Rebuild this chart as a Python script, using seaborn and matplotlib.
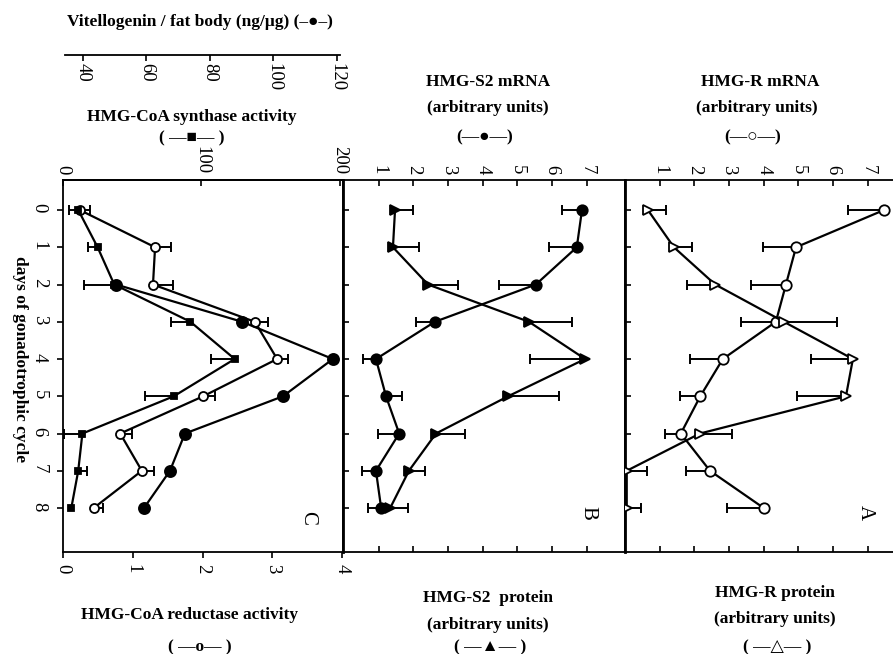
import numpy as np
import pandas as pd
import matplotlib
matplotlib.use("Agg")
import matplotlib.pyplot as plt
import seaborn as sns

# days of gonadotrophic cycle
days = [0, 1, 2, 3, 4, 5, 6, 7, 8]

# panel C
reductase = [0.24, 1.32, 1.29, 2.75, 3.07, 2.01, 0.82, 1.13, 0.44]
reductase_err_hi = [0.14, 0.23, 0.29, 0.19, 0.16, 0.17, 0.17, 0.17, 0.14]
synthase = [11, 25, 37, 92, 124, 80, 14, 11, 6]
synthase_err_lo = [7, 7, 22, 14, 17, 21, 13, 0, 0]
synthase_err_hi = [0, 0, 0, 0, 0, 0, 0, 6, 0]
vitellogenin = [np.nan, np.nan, 50.4, 90.1, 118.7, 103.0, 72.1, 67.4, 59.2]

# panel B
s2_mrna = [6.86, 6.71, 5.53, 2.62, 0.92, 1.21, 1.59, 0.92, 1.07]
s2_mrna_err_lo = [0.58, 0.81, 1.07, 0.55, 0.37, 0, 0.60, 0.40, 0.37]
s2_mrna_err_hi = [0, 0, 0, 0, 0, 0.46, 0, 0, 0]
s2_prot = [1.47, 1.41, 2.42, 5.33, 6.95, 4.73, 2.65, 1.87, 1.33]
s2_prot_err_lo = [0, 0, 0, 0, 1.60, 0, 0, 0, 0]
s2_prot_err_hi = [0.52, 0.75, 0.86, 1.24, 0, 1.47, 0.84, 0.46, 0.52]

# panel A
r_mrna = [7.47, 4.93, 4.64, 4.35, 2.82, 2.17, 1.61, 2.45, 4.00]
r_mrna_err_lo = [1.04, 0.95, 1.00, 1.00, 0.94, 0.58, 0.46, 0.69, 1.06]
r_prot = [0.66, 1.41, 2.60, 4.58, 6.57, 6.37, 2.16, 0.05, 0.05]
r_prot_err_lo = [0, 0, 0.80, 0, 1.20, 1.42, 0, 0, 0]
r_prot_err_hi = [0.52, 0.52, 0, 1.54, 0, 0, 0.92, 0.58, 0.40]

sns.set_style("ticks")
plt.rcParams["font.family"] = ["Liberation Serif", "DejaVu Sans"]
plt.rcParams["axes.edgecolor"] = "black"
plt.rcParams["axes.linewidth"] = 1.3
plt.rcParams["xtick.color"] = "black"
plt.rcParams["ytick.color"] = "black"
plt.rcParams["text.color"] = "black"

W, H = 893, 654
fig = plt.figure(figsize=(W / 100, H / 100), dpi=100)


def box(x0, y0, x1, y1):
    return [x0 / W, 1 - y1 / H, (x1 - x0) / W, (y1 - y0) / H]


def line(ax, vals, marker, ms, face="black"):
    df = pd.DataFrame({"day": days, "v": vals})
    sns.lineplot(data=df, x="v", y="day", orient="y", estimator=None, sort=False,
                 ax=ax, color="black", linewidth=1.6, marker=marker, markersize=ms,
                 markerfacecolor=face, markeredgecolor="black", markeredgewidth=1.3,
                 zorder=3)
    ax.set_xlabel("")
    ax.set_ylabel("")


def errs(ax, vals, lo, hi):
    v = np.array(vals, float)
    d = np.array(days, float)
    lo = np.array(lo, float)
    hi = np.array(hi, float)
    for side in ("lo", "hi"):
        e = lo if side == "lo" else hi
        m = e > 0
        if not m.any():
            continue
        z = np.zeros(m.sum())
        xe = [e[m], z] if side == "lo" else [z, e[m]]
        _, caps, _ = ax.errorbar(v[m], d[m], xerr=xe, fmt="none", ecolor="black",
                                 elinewidth=1.4, capsize=3.5, capthick=1.4, zorder=2)
        caps[1 if side == "lo" else 0].set_visible(False)


ylim = (9.18, -0.805)
tick_kw = dict(labelsize=13.5, width=1.2, length=4)

# ---- panel C ----
axC = fig.add_axes(box(63, 180, 343, 552))
axS = axC.twiny()
axV = axC.twiny()

errs(axC, reductase, [0] * 9, reductase_err_hi)
line(axC, reductase, "o", 6.5, face="white")
errs(axS, synthase, synthase_err_lo, synthase_err_hi)
line(axS, synthase, "s", 5)
line(axV, vitellogenin, "o", 8)

axC.set_xlim(0, 4.014)
axC.set_xticks([0, 1, 2, 3, 4])
axC.set_yticks(days)
axC.tick_params(axis="x", direction="out", top=False, labelrotation=-90, pad=5, **tick_kw)
axC.tick_params(axis="y", direction="out", right=False, labelrotation=-90, pad=7, **tick_kw)

axS.set_xlim(0, 202.2)
axS.set_xticks([0, 100, 200])
axS.tick_params(axis="x", direction="in", top=True, labeltop=True, bottom=False,
                labelbottom=False, labelrotation=-90, pad=4, **tick_kw)
for s in ("left", "right", "bottom"):
    axS.spines[s].set_visible(False)

axV.set_xlim(33.7, 121.9)
axV.set_xticks([40, 60, 80, 100, 120])
axV.xaxis.set_ticks_position("bottom")
axV.spines["bottom"].set_position(("axes", (552 - 55) / 372))
axV.spines["bottom"].set_bounds(34.3, 120.9)
for s in ("left", "right", "top"):
    axV.spines[s].set_visible(False)
axV.tick_params(axis="x", direction="out", labelrotation=-90, pad=2, **tick_kw)

# ---- panel B ----
axB = fig.add_axes(box(343, 180, 625, 552))
errs(axB, s2_mrna, s2_mrna_err_lo, s2_mrna_err_hi)
errs(axB, s2_prot, s2_prot_err_lo, s2_prot_err_hi)
line(axB, s2_mrna, "o", 7.5)
line(axB, s2_prot, ">", 7)
axB.set_xlim(-0.03, 8.1)

# ---- panel A ----
axA = fig.add_axes(box(625, 180, 907, 552))
errs(axA, r_mrna, r_mrna_err_lo, [0] * 9)
errs(axA, r_prot, r_prot_err_lo, r_prot_err_hi)
line(axA, r_mrna, "o", 7.5, face="white")
line(axA, r_prot, ">", 7, face="white")
axA.set_xlim(0, 8.13)

for ax in (axB, axA):
    ax.set_xticks([1, 2, 3, 4, 5, 6, 7])
    ax.set_yticks(days)
    ax.tick_params(axis="x", direction="in", top=True, labeltop=True, bottom=True,
                   labelbottom=False, labelrotation=-90, pad=4, **tick_kw)
    ax.tick_params(axis="y", direction="in", left=True, labelleft=False, right=False,
                   **tick_kw)
    ax.spines["left"].set_linewidth(2.0)

for ax in (axC, axS, axV, axB, axA):
    ax.set_ylim(*ylim)

# ---- texts ----
bold = dict(fontsize=12.5, fontweight="bold", ha="center", va="center")


def t(x, y, s, **kw):
    fig.text(x / W, 1 - y / H, s, **kw)


t(200, 22, "Vitellogenin / fat body (ng/\u03bcg) (\u2013\u25cf\u2013)", **bold)
t(192, 117, "HMG-CoA synthase activity", **bold)
t(192, 138, "( \u2014\u25a0\u2014 )", **bold)
t(488, 82, "HMG-S2 mRNA", **bold)
t(488, 108, "(arbitrary units)", **bold)
t(485, 137, "(\u2014\u25cf\u2014)", **bold)
t(760, 82, "HMG-R mRNA", **bold)
t(757, 108, "(arbitrary units)", **bold)
t(753, 137, "(\u2014\u25cb\u2014)", **bold)
t(190, 615, "HMG-CoA reductase activity", **bold)
t(200, 647, "( \u2014o\u2014 )", **bold)
t(488, 598, "HMG-S2  protein", **bold)
t(488, 625, "(arbitrary units)", **bold)
t(490, 647, "( \u2014\u25b2\u2014 )", **bold)
t(775, 593, "HMG-R protein", **bold)
t(775, 619, "(arbitrary units)", **bold)
t(777, 647, "( \u2014\u25b3\u2014 )", **bold)
t(20, 359, "days of gonadotrophic cycle", rotation=-90, **bold)
t(308, 518, "C", fontsize=15, rotation=-90, ha="center", va="center")
t(588, 513, "B", fontsize=15, rotation=-90, ha="center", va="center")
t(865, 513, "A", fontsize=15, rotation=-90, ha="center", va="center")

fig.savefig("out.png", dpi=100)
